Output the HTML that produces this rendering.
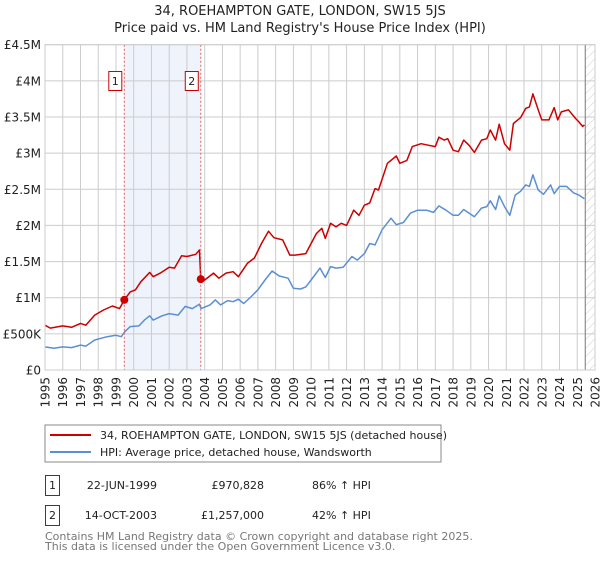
<!DOCTYPE html>
<html><head><meta charset="utf-8"><style>
body{margin:0;background:#fff;font-family:"Liberation Sans","DejaVu Sans",sans-serif}
svg text{font-family:"DejaVu Sans","Liberation Sans",sans-serif}
</style></head><body>
<svg id="c" width="600" height="560" xmlns="http://www.w3.org/2000/svg">
<defs><pattern id="hatch" width="6" height="6" patternUnits="userSpaceOnUse" patternTransform="rotate(45)"><line x1="0" y1="0" x2="0" y2="6" stroke="#ccc" stroke-width="1"/></pattern></defs>
<text x="300" y="15" text-anchor="middle" font-size="13" fill="#222">34, ROEHAMPTON GATE, LONDON, SW15 5JS</text>
<text x="300" y="32" text-anchor="middle" font-size="13" fill="#222">Price paid vs. HM Land Registry's House Price Index (HPI)</text>
<g id="grid"></g><g id="marks"></g>
<g>
<rect x="45" y="425" width="396" height="37" fill="#fff" stroke="#888"/>
<line x1="50" y1="435" x2="91" y2="435" stroke="#cc0000" stroke-width="2"/>
<text x="100" y="439" font-size="11" fill="#222">34, ROEHAMPTON GATE, LONDON, SW15 5JS (detached house)</text>
<line x1="50" y1="452" x2="91" y2="452" stroke="#5b8fd4" stroke-width="2"/>
<text x="100" y="456" font-size="11" fill="#222">HPI: Average price, detached house, Wandsworth</text>
</g>
<g font-size="11" fill="#222">
<rect x="45.5" y="475.5" width="14" height="20" fill="#fff" stroke="#c00"/><text x="52.5" y="489" text-anchor="middle">1</text>
<text x="157" y="489" text-anchor="end">22-JUN-1999</text><text x="264" y="489" text-anchor="end">£970,828</text><text x="312" y="489">86% ↑ HPI</text>
<rect x="45.5" y="505.5" width="14" height="20" fill="#fff" stroke="#c00"/><text x="52.5" y="519" text-anchor="middle">2</text>
<text x="157" y="519" text-anchor="end">14-OCT-2003</text><text x="264" y="519" text-anchor="end">£1,257,000</text><text x="312" y="519">42% ↑ HPI</text>
</g>
<text x="45" y="540" font-size="11" fill="#777">Contains HM Land Registry data © Crown copyright and database right 2025.</text>
<text x="45" y="550" font-size="11" fill="#777">This data is licensed under the Open Government Licence v3.0.</text>
</svg>
<script>
const redYears=[1995.0,1995.3,1996.0,1996.5,1997.0,1997.3,1997.8,1998.3,1998.8,1999.2,1999.47,1999.8,2000.1,2000.4,2000.9,2001.1,2001.5,2002.0,2002.3,2002.7,2003.0,2003.5,2003.7,2003.78,2004.0,2004.5,2004.8,2005.2,2005.6,2005.9,2006.4,2006.8,2007.2,2007.6,2007.9,2008.4,2008.8,2009.1,2009.7,2010.0,2010.3,2010.6,2010.8,2011.1,2011.4,2011.7,2012.0,2012.4,2012.7,2013.0,2013.3,2013.6,2013.8,2014.3,2014.8,2015.0,2015.4,2015.7,2016.2,2016.6,2017.0,2017.2,2017.5,2017.7,2018.0,2018.3,2018.6,2018.9,2019.2,2019.6,2019.9,2020.1,2020.4,2020.6,2020.9,2021.2,2021.4,2021.8,2022.1,2022.3,2022.5,2022.8,2023.0,2023.4,2023.7,2023.9,2024.1,2024.5,2024.9,2025.1,2025.3,2025.4];
const redValues=[0.62,0.58,0.61,0.59,0.645,0.62,0.76,0.83,0.885,0.85,0.97,1.08,1.11,1.22,1.35,1.29,1.34,1.42,1.41,1.58,1.57,1.60,1.66,1.257,1.245,1.34,1.27,1.34,1.36,1.29,1.475,1.55,1.75,1.92,1.83,1.80,1.59,1.59,1.61,1.75,1.89,1.96,1.82,2.03,1.98,2.03,2.0,2.21,2.14,2.28,2.31,2.51,2.49,2.86,2.96,2.86,2.90,3.09,3.13,3.11,3.09,3.22,3.18,3.20,3.04,3.02,3.18,3.11,3.01,3.18,3.20,3.32,3.18,3.40,3.13,3.04,3.41,3.49,3.62,3.64,3.82,3.60,3.46,3.46,3.63,3.46,3.57,3.60,3.48,3.43,3.37,3.39];
const hpiYears=[1995.0,1995.5,1996.0,1996.5,1997.0,1997.3,1997.8,1998.5,1999.0,1999.3,1999.5,1999.8,2000.3,2000.6,2000.9,2001.1,2001.6,2002.0,2002.5,2002.9,2003.3,2003.7,2003.8,2004.3,2004.6,2004.9,2005.3,2005.6,2005.9,2006.2,2006.6,2007.0,2007.4,2007.8,2008.2,2008.7,2009.0,2009.4,2009.7,2010.0,2010.5,2010.8,2011.1,2011.4,2011.8,2012.3,2012.6,2013.0,2013.3,2013.6,2014.0,2014.5,2014.8,2015.2,2015.6,2016.0,2016.5,2016.9,2017.2,2017.6,2018.0,2018.3,2018.6,2018.9,2019.2,2019.6,2019.9,2020.1,2020.4,2020.6,2020.9,2021.2,2021.5,2021.8,2022.1,2022.3,2022.5,2022.8,2023.1,2023.5,2023.7,2024.0,2024.4,2024.8,2025.1,2025.4];
const hpiValues=[0.32,0.30,0.32,0.31,0.345,0.33,0.415,0.46,0.48,0.46,0.53,0.60,0.61,0.69,0.75,0.69,0.75,0.78,0.76,0.88,0.85,0.91,0.85,0.90,0.97,0.90,0.96,0.945,0.98,0.92,1.01,1.11,1.245,1.37,1.30,1.27,1.13,1.12,1.15,1.245,1.41,1.28,1.43,1.41,1.42,1.57,1.52,1.61,1.75,1.73,1.94,2.10,2.01,2.04,2.17,2.21,2.21,2.18,2.27,2.21,2.14,2.14,2.22,2.17,2.12,2.24,2.26,2.34,2.22,2.41,2.26,2.14,2.42,2.47,2.56,2.54,2.70,2.49,2.43,2.56,2.44,2.54,2.54,2.45,2.42,2.37];
const saleYears=[1999.47,2003.78];
const saleValues=[0.970828,1.257];
const saleLabels=["1","2"];
const yTicks=[0,0.5,1,1.5,2,2.5,3,3.5,4,4.5];
const yTickLabels=["£0","£500K","£1M","£1.5M","£2M","£2.5M","£3M","£3.5M","£4M","£4.5M"];
const xTicks=[1995,1996,1997,1998,1999,2000,2001,2002,2003,2004,2005,2006,2007,2008,2009,2010,2011,2012,2013,2014,2015,2016,2017,2018,2019,2020,2021,2022,2023,2024,2025,2026];
const dataEnd=2025.45;

const X0=45,X1=595,Y0=370,Y1=44.7;
const xs=y=>X0+(y-1995)/31*(X1-X0);
const ys=v=>Y0-v/4.5*(Y0-Y1);
const NS="http://www.w3.org/2000/svg";
function mk(tag,attrs,parent){const e=document.createElementNS(NS,tag);for(const k in attrs)e.setAttribute(k,attrs[k]);parent.appendChild(e);return e;}
const grid=document.getElementById('grid'),marks=document.getElementById('marks');
let band=mk('rect',{x:xs(saleYears[0]),y:Y1,width:xs(saleYears[1])-xs(saleYears[0]),height:Y0-Y1,fill:'#eef3fc'},grid);


xTicks.forEach(t=>{
  const l=mk('line',{x1:xs(t),x2:xs(t),y1:Y1,y2:Y0,stroke:'#ccc'},grid);
  
  
  const px=xs(t)+4.5;
  const tx=mk('text',{x:px,y:377,'text-anchor':'end','font-size':'12',fill:'#222',transform:'rotate(-90 '+px+' 377)'},grid);
  tx.textContent=t;
  
  
});
yTicks.forEach((t,i)=>{
  const l=mk('line',{x1:X0,x2:X1,y1:ys(t),y2:ys(t),stroke:'#ccc'},grid);
  
  
  const tx=mk('text',{x:41,y:ys(t)+4.5,'text-anchor':'end','font-size':'12',fill:'#222'},grid);
  tx.textContent=yTickLabels[i];
  
  
});
let hat=mk('rect',{x:xs(dataEnd),y:Y1,width:X1-xs(dataEnd),height:Y0-Y1,fill:'url(#hatch)'},grid);


let dl=mk('line',{x1:xs(dataEnd),x2:xs(dataEnd),y1:Y1,y2:Y0,stroke:'#777'},grid);


function path(xa,va,color,name){
  const d=xa.map((x,i)=>(i?'L':'M')+xs(x).toFixed(1)+','+ys(va[i]).toFixed(1)).join('');
  const p=mk('path',{d:d,fill:'none',stroke:color,'stroke-width':1.5,'stroke-linejoin':'round'},marks);
  
  
}
path(hpiYears,hpiValues,'#5b8fd4','hpi-line');
path(redYears,redValues,'#cc0000','property-price-line');
saleYears.forEach((s,i)=>{
  const l=mk('line',{x1:xs(s),x2:xs(s),y1:Y1,y2:Y0,stroke:'#e06060','stroke-dasharray':'2,2'},marks);
  
  
  const c=mk('circle',{cx:xs(s),cy:ys(saleValues[i]),r:4,fill:'#cc0000'},marks);
  
  
  const r=mk('rect',{x:xs(s)-15.5,y:71.5,width:13,height:19,fill:'#fff',stroke:'#c00'},marks);
  
  
  const t=mk('text',{x:xs(s)-9,y:85,'text-anchor':'middle','font-size':'11',fill:'#222'},marks);
  t.textContent=saleLabels[i];
  
  
});
let b=mk('rect',{x:X0,y:Y1,width:X1-X0,height:Y0-Y1,fill:'none',stroke:'#ccc'},marks);


</script>
</body></html>
